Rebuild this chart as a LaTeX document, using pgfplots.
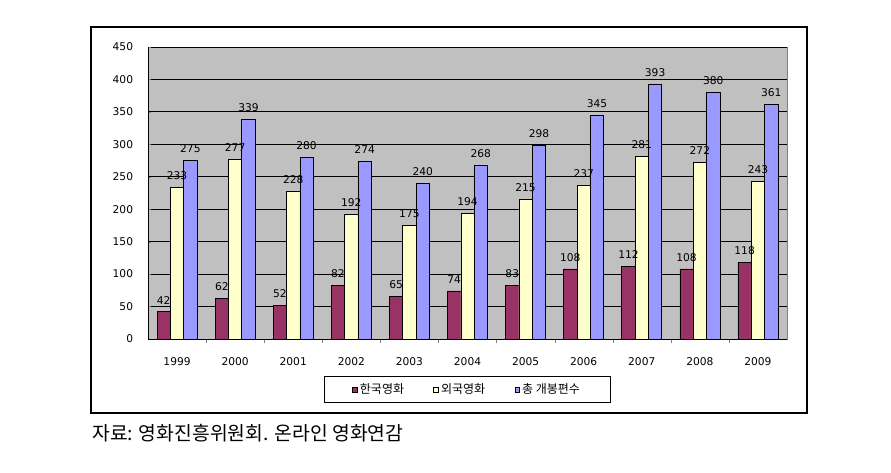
\documentclass[border=0pt]{standalone}
\usepackage{fontspec}
\setmainfont{DejaVu Sans}
\newfontfamily\kr{Noto Sans CJK KR}
\usepackage{pgfplots}
\pgfplotsset{compat=1.18}
\definecolor{kor}{RGB}{153,51,102}
\definecolor{frn}{RGB}{255,255,204}
\definecolor{tot}{RGB}{153,153,255}
\definecolor{plotbg}{RGB}{192,192,192}
\begin{document}
\begin{tikzpicture}
\path[use as bounding box] (0pt,0pt) rectangle (668.25pt,354.75pt);
\draw[line width=0.8pt] (68.25pt,45pt) rectangle (605.25pt,334.5pt);
\begin{axis}[
  at={(111pt,100.5pt)}, anchor=south west, scale only axis,
  width=479.25pt, height=219pt,
  ymin=0, ymax=450, ytick={0,50,...,450},
  xmin=-0.5, xmax=10.5,
  xtick={0,...,10},
  xticklabels={1999,2000,2001,2002,2003,2004,2005,2006,2007,2008,2009},
  minor xtick={0.5,1.5,...,9.5},
  major x tick style={draw=none},
  minor tick length=3pt, major tick length=2pt,
  tick align=inside,
  axis x line*=bottom, axis y line*=left,
  axis line style={black, line width=0.6pt},
  ymajorgrids, grid style={black, line width=0.6pt},
  axis background/.style={fill=plotbg, draw=gray},
  ybar=0pt, bar width=10pt,
  every axis plot/.append style={draw=black, line width=0.5pt},
  nodes near coords,
  nodes near coords style={font=\fontsize{8}{9}\selectfont, inner sep=0pt, yshift=5.5pt, text=black},
  tick label style={font=\fontsize{8}{9}\selectfont},
  /pgf/number format/assume math mode=true,
  yticklabel style={inner sep=0pt, xshift=-11pt},
  xticklabel style={inner sep=0pt, yshift=-11.5pt},
  legend style={at={(0.5,-0.173)}, anchor=center, legend columns=3, draw=black, line width=0.6pt,
    font=\kr\fontsize{9}{10}\selectfont, inner xsep=21pt, inner ysep=3.5pt, fill=white,
    /tikz/every even column/.append style={column sep=20pt}},
  legend image code/.code={\draw[#1, line width=0.3pt] (0pt,-1.7pt) rectangle (3.4pt,1.7pt);},
]
\addplot[fill=kor] coordinates {(0,42) (1,62) (2,52) (3,82) (4,65) (5,74) (6,83) (7,108) (8,112) (9,108) (10,118)};
\addlegendentry{한국영화}
\addplot[fill=frn] coordinates {(0,233) (1,277) (2,228) (3,192) (4,175) (5,194) (6,215) (7,237) (8,281) (9,272) (10,243)};
\addlegendentry{외국영화}
\addplot[fill=tot] coordinates {(0,275) (1,339) (2,280) (3,274) (4,240) (5,268) (6,298) (7,345) (8,393) (9,380) (10,361)};
\addlegendentry{총 개봉편수}
\end{axis}
\node[anchor=west, font=\kr\fontsize{14.5}{16}\selectfont, inner sep=0pt] at (69pt,30pt) {자료: 영화진흥위원회. 온라인 영화연감};
\end{tikzpicture}
\end{document}
